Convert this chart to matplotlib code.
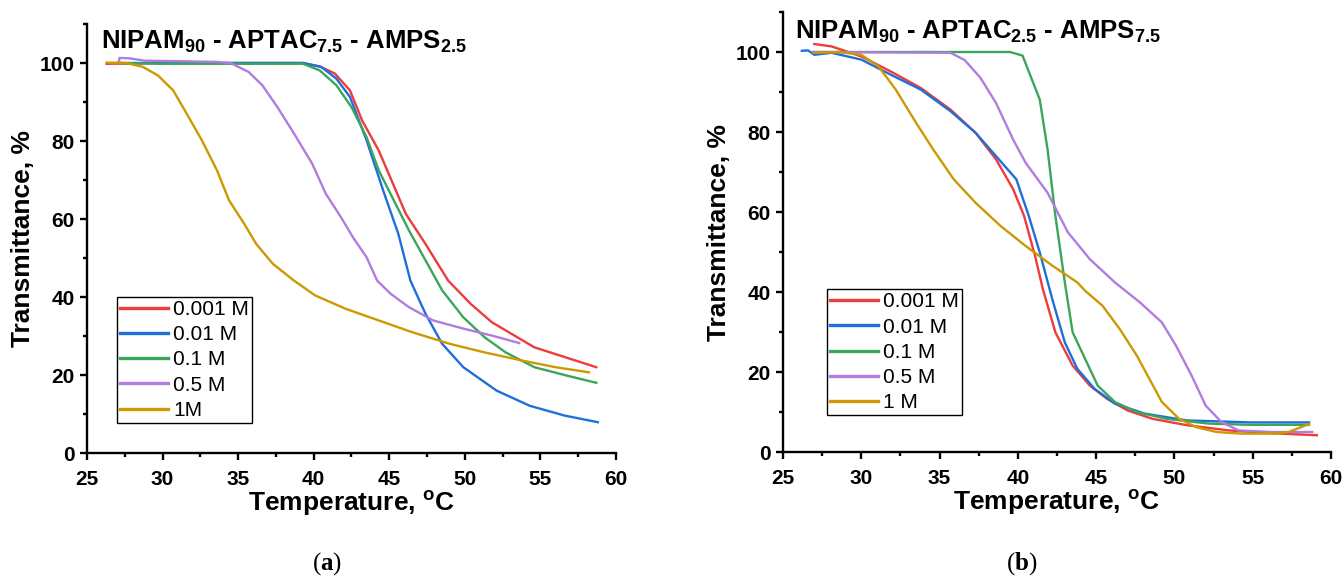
import matplotlib
matplotlib.use("Agg")
import matplotlib.pyplot as plt
from matplotlib.ticker import MultipleLocator

plt.rcParams['font.family'] = ['Liberation Sans', 'DejaVu Sans']
plt.rcParams['mathtext.fontset'] = 'custom'
plt.rcParams['mathtext.rm'] = 'Liberation Sans:bold'
plt.rcParams['mathtext.bf'] = 'Liberation Serif:bold'

labels_a = ['0.001 M', '0.01 M', '0.1 M', '0.5 M', '1M']
labels_b = ['0.001 M', '0.01 M', '0.1 M', '0.5 M', '1 M']
colors = ['#EE3B3B', '#1E6FDB', '#3BA55C', '#B07CDF', '#CC9900']

# panel (a): NIPAM90 - APTAC7.5 - AMPS2.5
a_red_t = [26.3, 30, 35, 39.3, 40.4, 41.4, 42.4, 43.2, 44.3, 46.1, 47.4, 48.9, 50.4, 51.8, 54.6, 58.7]
a_red_y = [99.8, 100, 100, 100, 99.1, 97.3, 93, 85.3, 77.6, 61.3, 53.6, 44.2, 38.2, 33.5, 27.1, 22.0]
a_blue_t = [27.0, 30, 35, 39.3, 40.5, 41.5, 42.4, 43.5, 44.6, 45.6, 46.4, 47.4, 48.5, 49.9, 52.1, 54.3, 56.6, 58.8]
a_blue_y = [100, 100, 100, 100, 99, 96, 91.3, 80.2, 67.3, 56.2, 44.2, 35.7, 28, 22, 16, 12.1, 9.6, 7.9]
a_green_t = [27.0, 30, 35, 39.3, 40.4, 41.5, 42.5, 43.5, 44.3, 45.3, 46.3, 47.4, 48.5, 49.9, 51.3, 52.7, 54.6, 56.8, 58.7]
a_green_y = [100, 99.8, 99.8, 99.8, 98.1, 94.3, 88.7, 81, 72.5, 64.8, 57.1, 49.4, 41.7, 34.8, 29.7, 25.8, 22, 19.8, 18.0]
a_purple_t = [27.1, 27.15, 27.8, 28.8, 33.5, 34.5, 35.7, 36.6, 37.6, 38.7, 39.9, 40.8, 41.8, 42.6, 43.5, 44.2,
              45.1, 46.3, 47.9, 49.9, 51.8, 53.6]
a_purple_y = [100, 101.3, 101.2, 100.6, 100.3, 100, 97.7, 94.3, 88.7, 81.9, 74.2, 66.5, 60.5, 55.3, 50.2, 44.2,
              40.8, 37.4, 34, 31.9, 30.1, 28.2]
a_gold_t = [26.3, 27.6, 28.7, 29.7, 30.7, 31.6, 32.6, 33.6, 34.4, 35.4, 36.2, 37.3, 38.7, 40.1, 42.1, 44.3,
            46.5, 49.0, 51.3, 53.8, 56.0, 58.2]
a_gold_y = [100.1, 100, 99, 96.8, 93, 87, 80.2, 72.5, 64.8, 58.8, 53.6, 48.5, 44.2, 40.4, 37, 34,
            31, 28, 25.8, 23.7, 22, 20.7]

# panel (b): NIPAM90 - APTAC2.5 - AMPS7.5
b_red_t = [27.0, 28.1, 30, 31.9, 33.8, 35.7, 37.3, 38.6, 39.7, 40.4, 41.1, 41.6, 42.4, 43.5, 44.6, 45.7,
           47.0, 48.6, 50.8, 53.5, 56.2, 59.1]
b_red_y = [102, 101.4, 98.9, 95.1, 91, 85.6, 79.8, 73.2, 65.7, 59, 49, 40.7, 29.9, 21.6, 16.6, 13.3,
           10.4, 8.3, 6.7, 5.4, 4.7, 4.2]
b_blue_t = [26.2, 26.6, 27.0, 28.1, 30, 31.9, 33.8, 35.7, 37.3, 38.6, 39.9, 40.7, 41.4, 42.2, 43.0, 43.8,
            44.9, 46.2, 48.1, 50.8, 54.9, 58.6]
b_blue_y = [100.3, 100.4, 99.3, 99.8, 98.1, 94.3, 90.6, 85.2, 79.8, 74, 68.2, 59, 49.9, 38.2, 27.4, 20.8,
            15.8, 12.1, 9.6, 7.9, 7.4, 7.4]
b_green_t = [27.0, 39.5, 40.3, 41.4, 41.9, 42.4, 43.0, 43.5, 44.2, 45.1, 46.2, 47.6, 49.5, 52.2, 54.9, 58.6]
b_green_y = [100, 100, 99.1, 88.1, 75.6, 59, 42.4, 29.9, 24.1, 16.6, 12.5, 10, 8.3, 7.1, 6.8, 6.8]
b_purple_t = [26.9, 35.7, 36.6, 37.6, 38.6, 39.7, 40.5, 41.9, 43.2, 44.6, 46.2, 47.8, 49.2, 50.1, 51.1, 52.0,
              53.0, 54.1, 56.2, 58.8]
b_purple_y = [100, 99.8, 98, 93.6, 87.3, 78.1, 72.3, 64.8, 54.9, 48.2, 42.4, 37.4, 32.4, 26.6, 19.1, 11.6,
              7.5, 5.4, 5, 5]
b_gold_t = [27.0, 28.6, 30, 31.1, 32.2, 33.5, 34.6, 35.9, 37.3, 38.9, 40.5, 42.2, 43.8, 44.3, 45.4, 46.5,
            47.6, 48.4, 49.2, 50.3, 51.4, 52.7, 54.3, 56.2, 57.3, 58.4, 58.6]
b_gold_y = [99.8, 100, 99.3, 96.4, 90.6, 82.3, 75.6, 68.2, 62.3, 56.5, 51.5, 46.6, 42.4, 40.3, 36.6, 30.8,
            24.1, 18.3, 12.5, 8.3, 6.2, 5, 4.6, 4.6, 5, 6.7, 6.8]

series_a = [(a_red_t, a_red_y), (a_blue_t, a_blue_y), (a_green_t, a_green_y),
            (a_purple_t, a_purple_y), (a_gold_t, a_gold_y)]
series_b = [(b_red_t, b_red_y), (b_blue_t, b_blue_y), (b_green_t, b_green_y),
            (b_purple_t, b_purple_y), (b_gold_t, b_gold_y)]

title_a = r'NIPAM$_{90}$ - APTAC$_{7.5}$ - AMPS$_{2.5}$'
title_b = r'NIPAM$_{90}$ - APTAC$_{2.5}$ - AMPS$_{7.5}$'


def draw_panel(ax, series, labels, title, title_pos, leg_anchor):
    for (t, y), c, lab in zip(series, colors, labels):
        ax.plot(t, y, color=c, lw=1.7, label=lab)
    ax.set_xlim(25, 60)
    ax.set_ylim(0, 110)
    ax.xaxis.set_major_locator(MultipleLocator(5))
    ax.xaxis.set_minor_locator(MultipleLocator(2.5))
    ax.yaxis.set_major_locator(MultipleLocator(20))
    ax.yaxis.set_minor_locator(MultipleLocator(10))
    for s in ['top', 'right']:
        ax.spines[s].set_visible(False)
    for s in ['left', 'bottom']:
        ax.spines[s].set_linewidth(1.7)
    ax.tick_params(which='major', direction='out', length=5, width=1.7, labelsize=15)
    ax.tick_params(which='minor', direction='out', length=3, width=1.7)
    ax.tick_params(axis='x', which='major', pad=7)
    ax.tick_params(axis='y', which='major', pad=4)
    for lbl in ax.get_xticklabels() + ax.get_yticklabels():
        lbl.set_fontweight('bold')
    ax.set_xlabel('Temperature, $^{\\mathrm{o}}$C', fontsize=19, fontweight='bold', labelpad=0)
    ax.set_ylabel('Transmittance, %', fontsize=19, fontweight='bold', labelpad=3)
    ax.text(title_pos[0], title_pos[1], title, transform=ax.transAxes, ha='left', va='baseline',
            fontsize=18.5, fontweight='bold')
    leg = ax.legend(loc='upper left', bbox_to_anchor=leg_anchor, borderaxespad=0,
                    fontsize=15, handlelength=2.3, handletextpad=0.25, labelspacing=0.3,
                    borderpad=0.15, fancybox=False, framealpha=1, edgecolor='black')
    leg.get_frame().set_linewidth(1.0)
    for line in leg.get_lines():
        line.set_linewidth(2.4)


fig = plt.figure(figsize=(13.44, 5.77), dpi=100)
ax1 = fig.add_axes([0.0647, 0.2149, 0.3936, 0.7435])
ax2 = fig.add_axes([0.5826, 0.2166, 0.4077, 0.7626])

draw_panel(ax1, series_a, labels_a, title_a, (0.026, 0.942), (0.057, 0.364))
draw_panel(ax2, series_b, labels_b, title_b, (0.021, 0.939), (0.080, 0.370))

fig.text(0.243, 0.024, r'($\mathbf{a}$)', ha='center', va='center', fontsize=18, family='Liberation Serif')
fig.text(0.760, 0.024, r'($\mathbf{b}$)', ha='center', va='center', fontsize=18, family='Liberation Serif')

fig.savefig('out.png', dpi=100)
